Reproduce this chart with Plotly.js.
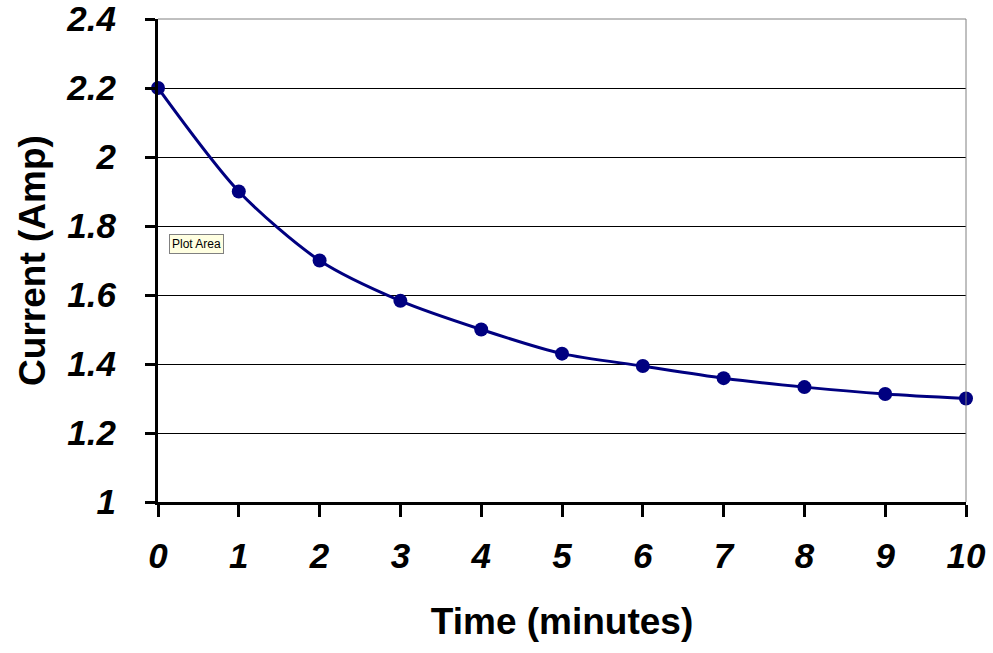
<!DOCTYPE html>
<html><head><meta charset="utf-8">
<script src="https://cdn.plot.ly/plotly-3.0.1.min.js"></script>
<style>html,body{margin:0;padding:0;background:#fff}#chart{width:993px;height:653px}</style>
</head><body><div id="chart"></div>
<script>
const timeMinutes = [0,1,2,3,4,5,6,7,8,9,10];
const currentAmp = [2.2,1.9,1.7,1.583,1.5,1.43,1.394,1.359,1.333,1.313,1.3];
const xTitle = "Time (minutes)";
const yTitle = "Current (Amp)";

const trace = {
  x: timeMinutes, y: currentAmp, type: 'scatter', mode: 'lines+markers',
  line: {color: '#000080', width: 3, shape: 'spline', smoothing: 0.8},
  marker: {color: '#000080', size: 14, symbol: 'circle'},
  cliponaxis: false, hoverinfo: 'none'
};
const layout = {
  width: 993, height: 653,
  margin: {l: 158, r: 27, t: 19, b: 151},
  paper_bgcolor: '#fff', plot_bgcolor: '#fff',
  showlegend: false,
  font: {family: 'Arial, Liberation Sans, sans-serif', color: '#000'},
  xaxis: {
    range: [0, 10], dtick: 1, tick0: 0, showgrid: false, zeroline: false,
    showline: true, linecolor: '#000', linewidth: 3,
    ticks: 'outside', ticklen: 12, tickwidth: 3, tickcolor: '#000',
    ticklabelstandoff: 9, ticklabeloverflow: 'allow',
    tickfont: {size: 35, family: 'Arial, Liberation Sans, sans-serif', weight: 'bold', style: 'italic'},
    title: {text: xTitle, font: {size: 37, weight: 'bold'}, standoff: 35}
  },
  yaxis: {
    range: [1, 2.4], dtick: 0.2, tick0: 1, showgrid: true, gridcolor: '#000', gridwidth: 1,
    zeroline: false, showline: true, linecolor: '#000', linewidth: 3,
    ticks: 'outside', ticklen: 10, tickwidth: 3, tickcolor: '#000',
    ticklabelstandoff: 22, ticklabeloverflow: 'allow',
    tickfont: {size: 35, family: 'Arial, Liberation Sans, sans-serif', weight: 'bold', style: 'italic'},
    title: {text: yTitle, font: {size: 37, weight: 'bold'}, standoff: 10}
  },
  shapes: [
    {type: 'line', xref: 'paper', yref: 'paper', x0: 0, x1: 1, y0: 1, y1: 1, line: {color: '#808080', width: 1}},
    {type: 'line', xref: 'paper', yref: 'paper', x0: 1, x1: 1, y0: 0, y1: 1, line: {color: '#808080', width: 1}}
  ],
  annotations: [
    {text: 'Plot Area', xref: 'paper', yref: 'paper', x: 0.014, y: 0.535, xanchor: 'left', yanchor: 'middle',
     showarrow: false, font: {size: 12, family: 'Arial, Liberation Sans, sans-serif', color: '#000'},
     bgcolor: '#FFFFE1', bordercolor: '#808080', borderwidth: 1, borderpad: 2}
  ]
};
Plotly.newPlot('chart', [trace], layout, {staticPlot: true});
</script></body></html>
